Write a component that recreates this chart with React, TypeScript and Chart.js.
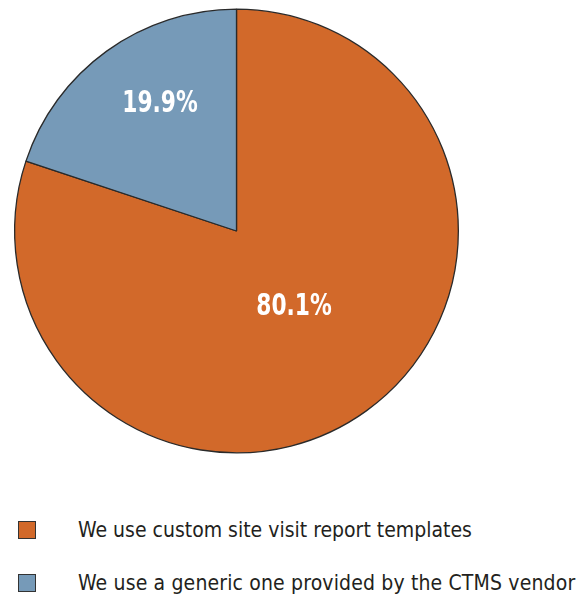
import React, { useEffect, useRef } from "react";
import { Chart, registerables } from "chart.js";

Chart.register(...registerables);

const categories = [
  "We use custom site visit report templates",
  "We use a generic one provided by the CTMS vendor",
];
const values = [80.1, 19.9];
const valueLabels = ["80.1%", "19.9%"];
const colors = ["#D2692A", "#769AB8"];

const FONT = "'Liberation Sans Narrow', 'DejaVu Sans Condensed', 'Arial Narrow', sans-serif";

const labelPlugin = {
  id: "sliceLabels",
  afterDatasetsDraw(chart: any) {
    const { ctx } = chart;
    const meta = chart.getDatasetMeta(0);
    const radial = [0.41, 0.68];
    const dx = [4.3, 11.8];
    const dy = [10.2, 3.5];
    ctx.save();
    ctx.fillStyle = "#ffffff";
    ctx.font = `bold 31px ${FONT}`;
    ctx.textAlign = "center";
    ctx.textBaseline = "alphabetic";
    meta.data.forEach((arc: any, i: number) => {
      const { x, y, startAngle, endAngle, outerRadius } = arc.getProps(
        ["x", "y", "startAngle", "endAngle", "outerRadius"],
        true
      );
      const mid = (startAngle + endAngle) / 2;
      const r = outerRadius * radial[i];
      const px = x + Math.cos(mid) * r + dx[i];
      const py = y + Math.sin(mid) * r + dy[i];
      ctx.save();
      ctx.translate(px, py);
      ctx.scale(0.78, 1);
      ctx.fillText(valueLabels[i], 0, 0);
      ctx.restore();
    });
    ctx.restore();
  },
};

export default function App() {
  const ref = useRef<HTMLCanvasElement>(null);
  useEffect(() => {
    document.body.style.margin = "0";
    const chart = new Chart(ref.current!, {
      type: "pie",
      data: {
        labels: categories,
        datasets: [
          {
            data: values,
            backgroundColor: colors,
            borderColor: "#2a2a2a",
            borderWidth: 1.3,
          },
        ],
      },
      options: {
        responsive: false,
        animation: false,
        layout: { padding: { left: 14, right: 14, top: 8.5, bottom: 8.5 } },
        plugins: {
          legend: { display: false },
          tooltip: { enabled: false },
        },
      },
      plugins: [labelPlugin],
    });
    return () => chart.destroy();
  }, []);

  const legendTop = [521, 574];
  return (
    <div style={{ position: "relative", width: 587, height: 598, background: "#fff" }}>
      <canvas ref={ref} width={473} height={462} style={{ position: "absolute", left: 0, top: 0 }} />
      {categories.map((c, i) => (
        <div key={c}>
          <div
            style={{
              position: "absolute",
              left: 18,
              top: legendTop[i],
              width: 16,
              height: 16,
              background: colors[i],
              border: "1px solid #333",
            }}
          />
          <div
            style={{
              position: "absolute",
              left: 78,
              top: legendTop[i] - 3,
              fontFamily: FONT,
              fontSize: 21,
              lineHeight: "24px",
              color: "#231f20",
              whiteSpace: "nowrap",
              letterSpacing: i === 1 ? "0.15px" : "0px",
            }}
          >
            {c}
          </div>
        </div>
      ))}
    </div>
  );
}
